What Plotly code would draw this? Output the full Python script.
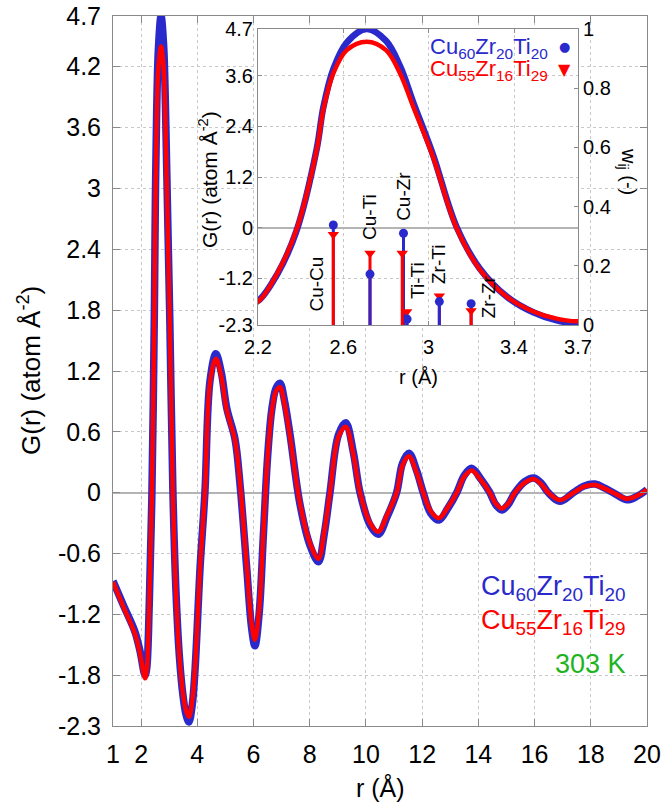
import plotly.graph_objects as go

# ---------------------------------------------------------------- data
# reduced pair distribution function G(r) for the two alloys at 303 K
r_vals = [1.00, 1.37, 1.78, 1.96, 2.14, 2.20, 2.29, 2.38, 2.475, 2.506, 2.553, 2.616,
          2.71, 2.80, 2.866, 2.928, 3.02, 3.13, 3.24, 3.366, 3.49, 3.60, 3.70, 3.82,
          3.92, 4.10, 4.27, 4.45, 4.66, 4.85, 5.05, 5.34, 5.52, 5.76, 5.93, 6.05,
          6.20, 6.35, 6.50, 6.65, 6.80, 6.94, 7.10, 7.30, 7.65, 8.01, 8.31, 8.52,
          8.72, 9.02, 9.28, 9.55, 9.79, 10.15, 10.44, 10.75, 11.09, 11.30, 11.53,
          11.80, 12.04, 12.30, 12.60, 12.90, 13.23, 13.50, 13.76, 14.10, 14.41,
          14.60, 14.83, 15.05, 15.30, 15.65, 15.98, 16.25, 16.49, 16.90, 17.38,
          17.75, 18.15, 18.50, 18.80, 19.28, 19.65, 20.00]

g_cu60 = [-0.87, -1.11, -1.37, -1.56, -1.80, -1.73, -1.10, -0.08, 1.86, 2.84, 3.75, 4.38,
          4.70, 4.42, 3.82, 2.96, 1.73, 0.03, -0.97, -1.63, -2.00, -2.19, -2.26, -2.09,
          -1.74, -0.73, 0.00, 1.10, 1.37, 1.19, 0.83, 0.53, 0.08, -0.75, -1.33, -1.51,
          -1.19, -0.42, 0.35, 0.82, 1.03, 1.08, 0.91, 0.57, -0.11, -0.52, -0.68, -0.40,
          0.00, 0.57, 0.69, 0.40, 0.00, -0.32, -0.41, -0.24, 0.00, 0.29, 0.39,
          0.22, 0.00, -0.20, -0.27, -0.16, 0.00, 0.17, 0.24, 0.13, 0.00,
          -0.11, -0.17, -0.12, 0.00, 0.11, 0.145, 0.09, 0.00, -0.085, 0.00,
          0.065, 0.085, 0.045, 0.00, -0.07, -0.035, 0.03]

g_cu55 = [-0.88, -1.125, -1.39, -1.585, -1.83, -1.75, -1.08, -0.05, 1.84, 2.79, 3.65, 4.20,
          4.40, 4.20, 3.65, 2.86, 1.68, 0.00, -0.99, -1.63, -1.98, -2.15, -2.21, -2.05,
          -1.72, -0.73, 0.00, 1.08, 1.32, 1.15, 0.81, 0.52, 0.09, -0.73, -1.29, -1.45,
          -1.15, -0.40, 0.35, 0.80, 1.00, 1.04, 0.88, 0.55, -0.10, -0.50, -0.65, -0.38,
          0.00, 0.55, 0.65, 0.38, 0.00, -0.30, -0.385, -0.22, 0.00, 0.27, 0.36,
          0.20, 0.00, -0.18, -0.25, -0.15, 0.00, 0.16, 0.22, 0.12, 0.00,
          -0.10, -0.155, -0.11, 0.00, 0.10, 0.134, 0.08, 0.00, -0.073, 0.00,
          0.06, 0.075, 0.04, 0.00, -0.06, -0.03, 0.03]

# partial pair positions and weighting factors w_ij
pairs = ["Cu-Cu", "Cu-Ti", "Cu-Zr", "Ti-Ti", "Zr-Ti", "Zr-Zr"]
pair_r_cu60 = [2.553, 2.725, 2.882, 2.899, 3.050, 3.199]
pair_w_cu60 = [0.338, 0.172, 0.310, 0.020, 0.079, 0.072]
pair_r_cu55 = [2.553, 2.725, 2.876, 2.897, 3.050, 3.199]
pair_w_cu55 = [0.306, 0.242, 0.242, 0.045, 0.098, 0.048]

# where the pair names sit in the inset (r, w)
pair_label_r = [2.475, 2.725, 2.884, 2.945, 3.049, 3.280]
pair_label_w = [0.139, 0.365, 0.436, 0.152, 0.203, 0.095]

main_xticks = [1, 2, 4, 6, 8, 10, 12, 14, 16, 18, 20]
main_yticks = [-2.3, -1.8, -1.2, -0.6, 0, 0.6, 1.2, 1.8, 2.4, 3, 3.6, 4.2, 4.7]
main_ytext = ["-2.3", "-1.8", "-1.2", "-0.6", "0", "0.6", "1.2", "1.8", "2.4", "3",
              "3.6", "4.2", "4.7"]
inset_xticks = [2.2, 2.6, 3.0, 3.4, 3.7]
inset_xtext = ["2.2", "2.6", "3", "3.4", "3.7"]
inset_yticks = [-2.3, -1.2, 0, 1.2, 2.4, 3.6, 4.7]
inset_ytext = ["-2.3", "-1.2", "0", "1.2", "2.4", "3.6", "4.7"]
w_ticks = [0, 0.2, 0.4, 0.6, 0.8, 1]
w_text = ["0", "0.2", "0.4", "0.6", "0.8", "1"]

# ---------------------------------------------------------------- style
W, H = 663, 807
BLUE = "#2a2acc"
RED = "#ff0000"
GREEN = "#1eb41e"
AXC = "#8a8a8a"
GRID = "#c8c8c8"
FONT = "Liberation Sans, Arial, sans-serif"


def px_x(p):
    return p / W


def px_y(p):
    return 1 - p / H


main_dom_x = [px_x(113), px_x(647)]
main_dom_y = [px_y(726), px_y(16)]
ins_dom_x = [px_x(258), px_x(578)]
ins_dom_y = [px_y(325), px_y(29)]

fig = go.Figure()

curve = dict(shape="spline", smoothing=1.0)

# main curves
fig.add_trace(go.Scatter(x=r_vals, y=g_cu60, mode="lines", line=dict(color=BLUE, width=7.5, **curve),
                         xaxis="x", yaxis="y", showlegend=False, hoverinfo="skip"))
fig.add_trace(go.Scatter(x=r_vals, y=g_cu55, mode="lines", line=dict(color=RED, width=4.5, **curve),
                         xaxis="x", yaxis="y", showlegend=False, hoverinfo="skip"))

# inset curves
fig.add_trace(go.Scatter(x=r_vals, y=g_cu60, mode="lines", line=dict(color=BLUE, width=6.5, **curve),
                         xaxis="x2", yaxis="y2", showlegend=False, hoverinfo="skip"))
fig.add_trace(go.Scatter(x=r_vals, y=g_cu55, mode="lines", line=dict(color=RED, width=4.5, **curve),
                         xaxis="x2", yaxis="y2", showlegend=False, hoverinfo="skip"))


def stems(rs, ws, idx):
    xs, ys = [], []
    for i in idx:
        xs += [rs[i], rs[i], None]
        ys += [0, ws[i], None]
    return xs, ys


n = len(pairs)
tall_blue = [i for i in range(n) if pair_w_cu60[i] >= pair_w_cu55[i]]
tall_red = [i for i in range(n) if pair_w_cu55[i] > pair_w_cu60[i]]
short_blue = tall_red
short_red = tall_blue


def add_stems(idx_blue, idx_red):
    for rs, ws, idx, col, sym, size in (
            (pair_r_cu60, pair_w_cu60, idx_blue, BLUE, "circle", 9),
            (pair_r_cu55, pair_w_cu55, idx_red, RED, "triangle-down", 10)):
        if not idx:
            continue
        xs, ys = stems(rs, ws, idx)
        fig.add_trace(go.Scatter(x=xs, y=ys, mode="lines", line=dict(color=col, width=3),
                                 xaxis="x2", yaxis="y3", showlegend=False, hoverinfo="skip"))
        fig.add_trace(go.Scatter(x=[rs[i] for i in idx], y=[ws[i] for i in idx], mode="markers",
                                 marker=dict(color=col, symbol=sym, size=size, line=dict(width=0)),
                                 xaxis="x2", yaxis="y3", showlegend=False, hoverinfo="skip",
                                 cliponaxis=False))


# taller stem of each pair first, the shorter one drawn over it
add_stems(tall_blue, tall_red)
add_stems(short_blue, short_red)

annotations = []
for name, lr, lw in zip(pairs, pair_label_r, pair_label_w):
    annotations.append(dict(x=lr, y=lw, xref="x2", yref="y3", text=name, textangle=-90,
                            showarrow=False, font=dict(family=FONT, size=19, color="black"),
                            xanchor="center", yanchor="middle"))

# inset key
annotations += [
    dict(x=(550 - 258) / 320, y=(325 - 48) / 296, xref="x2 domain", yref="y2 domain",
         text="Cu<sub>60</sub>Zr<sub>20</sub>Ti<sub>20</sub>", showarrow=False,
         xanchor="right", yanchor="middle", font=dict(family=FONT, size=22, color=BLUE)),
    dict(x=(550 - 258) / 320, y=(325 - 70) / 296, xref="x2 domain", yref="y2 domain",
         text="Cu<sub>55</sub>Zr<sub>16</sub>Ti<sub>29</sub>", showarrow=False,
         xanchor="right", yanchor="middle", font=dict(family=FONT, size=22, color=RED)),
    dict(x=(564 - 258) / 320, y=(325 - 47) / 296, xref="x2 domain", yref="y2 domain",
         text="\u25cf", showarrow=False, xanchor="center", yanchor="middle",
         font=dict(family="DejaVu Sans", size=13, color=BLUE)),
    dict(x=(564 - 258) / 320, y=(325 - 70) / 296, xref="x2 domain", yref="y2 domain",
         text="\u25bc", showarrow=False, xanchor="center", yanchor="middle",
         font=dict(family="DejaVu Sans", size=16, color=RED)),
]

# main key
annotations += [
    dict(x=px_x(628), y=px_y(588), xref="paper", yref="paper",
         text="Cu<sub>60</sub>Zr<sub>20</sub>Ti<sub>20</sub>", showarrow=False,
         xanchor="right", yanchor="middle", font=dict(family=FONT, size=27, color=BLUE)),
    dict(x=px_x(628), y=px_y(622), xref="paper", yref="paper",
         text="Cu<sub>55</sub>Zr<sub>16</sub>Ti<sub>29</sub>", showarrow=False,
         xanchor="right", yanchor="middle", font=dict(family=FONT, size=27, color=RED)),
    dict(x=px_x(628), y=px_y(664), xref="paper", yref="paper", text="303 K", showarrow=False,
         xanchor="right", yanchor="middle", font=dict(family=FONT, size=27, color=GREEN)),
]

# axis titles
annotations += [
    dict(x=px_x(29), y=px_y(371), xref="paper", yref="paper",
         text="G(r) (atom \u00c5<sup>-2</sup>)", textangle=-90, showarrow=False,
         xanchor="center", yanchor="middle", font=dict(family=FONT, size=26, color="black")),
    dict(x=px_x(380), y=px_y(787), xref="paper", yref="paper", text="r (\u00c5)",
         showarrow=False, xanchor="center", yanchor="middle",
         font=dict(family=FONT, size=25, color="black")),
    dict(x=px_x(208), y=px_y(180), xref="paper", yref="paper",
         text="G(r) (atom \u00c5<sup>-2</sup>)", textangle=-90, showarrow=False,
         xanchor="center", yanchor="middle", font=dict(family=FONT, size=21, color="black")),
    dict(x=px_x(418), y=px_y(377), xref="paper", yref="paper", text="r (\u00c5)",
         showarrow=False, xanchor="center", yanchor="middle",
         font=dict(family=FONT, size=20, color="black")),
    dict(x=px_x(628), y=px_y(171), xref="paper", yref="paper",
         text="w<sub>ij</sub> (-)", textangle=90, showarrow=False,
         xanchor="center", yanchor="middle", font=dict(family=FONT, size=20, color="black")),
]

# white panel behind the inset (drawn in the inset's own layer, under its grid)
shapes = [dict(type="rect", xref="x2 domain", yref="y2 domain", x0=0, x1=1, y0=0, y1=1,
               fillcolor="white", line=dict(width=0), layer="below")]

common = dict(showline=True, linecolor=AXC, linewidth=1, ticks="inside", tickcolor=AXC,
              showgrid=True, gridcolor=GRID, griddash="dot", gridwidth=1, automargin=False)

fig.update_layout(
    template="none",
    width=W, height=H, margin=dict(l=0, r=0, t=0, b=0, autoexpand=False),
    paper_bgcolor="white", plot_bgcolor="white", showlegend=False,
    annotations=annotations, shapes=shapes,
    xaxis=dict(domain=main_dom_x, range=[1, 20], tickvals=main_xticks, ticklen=7,
               mirror="ticks", zeroline=False, anchor="y", ticklabelstandoff=6,
               tickfont=dict(family=FONT, size=25, color="black"), **common),
    yaxis=dict(domain=main_dom_y, range=[-2.3, 4.7], tickvals=main_yticks, ticktext=main_ytext,
               ticklen=7, mirror="ticks", zeroline=True, zerolinecolor="#b4b4b4",
               zerolinewidth=2, anchor="x", ticklabelstandoff=6,
               tickfont=dict(family=FONT, size=25, color="black"), **common),
    xaxis2=dict(domain=ins_dom_x, range=[2.2, 3.7], tickvals=inset_xticks, ticktext=inset_xtext,
                ticklen=4, mirror="ticks", zeroline=False, anchor="y2", ticklabelstandoff=4,
                tickfont=dict(family=FONT, size=20, color="black"), **common),
    yaxis2=dict(domain=ins_dom_y, range=[-2.3, 4.7], tickvals=inset_yticks, ticktext=inset_ytext,
                ticklen=4, mirror=False, zeroline=True, zerolinecolor="#b4b4b4",
                zerolinewidth=2, anchor="x2",
                tickfont=dict(family=FONT, size=20, color="black"), **common),
    yaxis3=dict(domain=ins_dom_y, range=[0, 1], tickvals=w_ticks, ticktext=w_text,
                ticklen=4, side="right", overlaying="y2", anchor="x2", zeroline=False,
                showline=True, linecolor=AXC, linewidth=1, ticks="inside", tickcolor=AXC,
                showgrid=False, automargin=False,
                tickfont=dict(family=FONT, size=20, color="black")),
)

fig.write_html("out.html")
